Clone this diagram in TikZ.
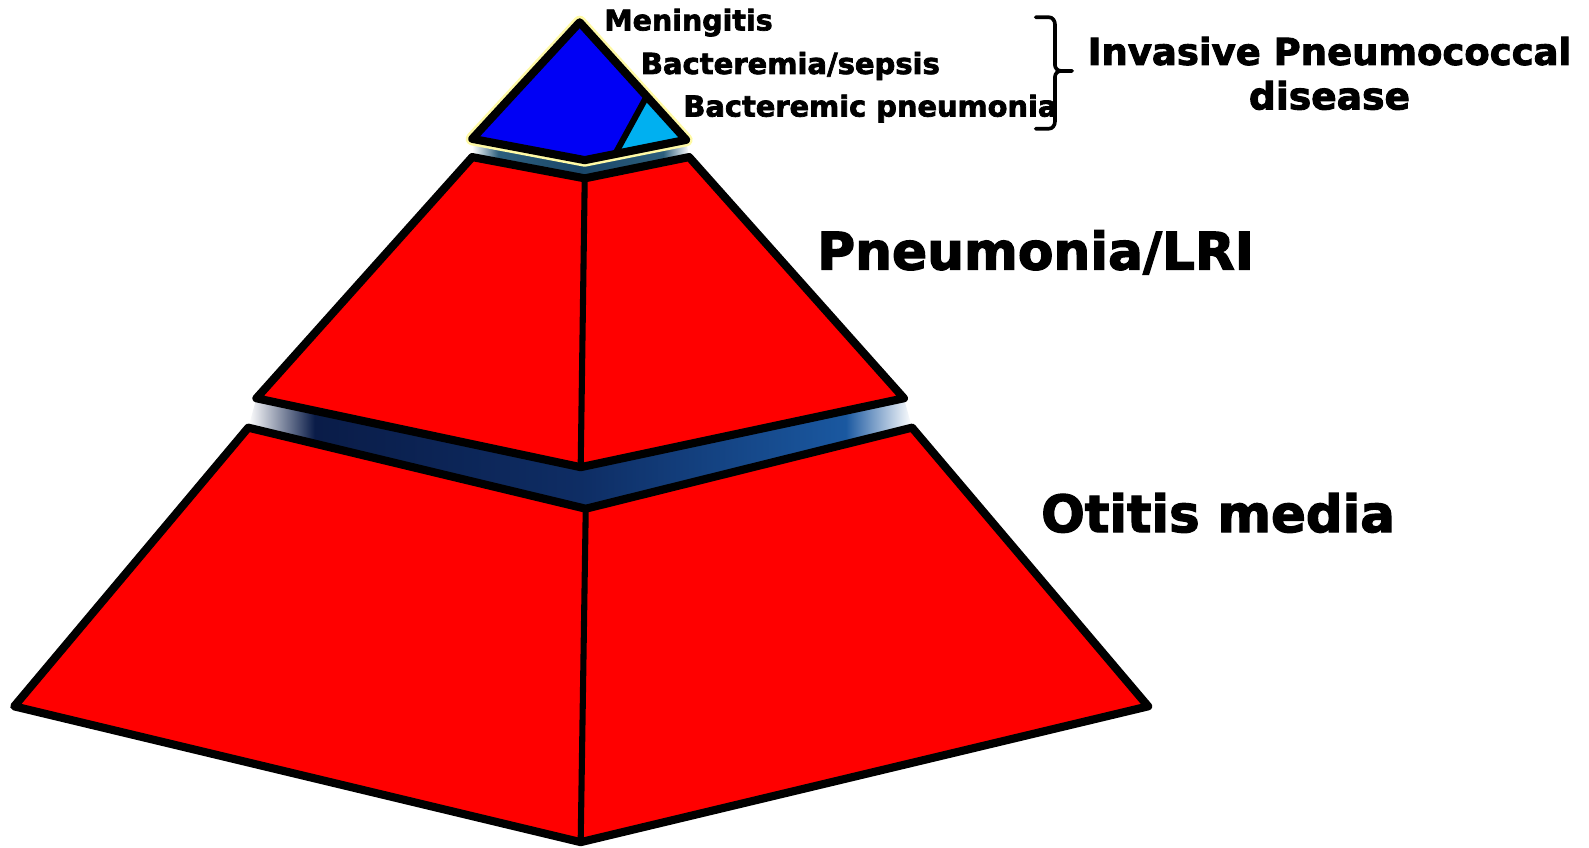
\documentclass[tikz,border=0pt]{standalone}
\usepackage{fontspec}
\usepackage{graphicx}
\newfontfamily\hv{DejaVu Sans}[BoldFeatures={FakeBold=2.5}]
\usetikzlibrary{calc}
\definecolor{pyrred}{RGB}{255,0,0}
\definecolor{topblue}{RGB}{0,0,245}
\definecolor{cyanb}{RGB}{0,176,240}
\definecolor{gapA}{RGB}{10,28,72}
\definecolor{gapB}{RGB}{14,45,100}
\definecolor{gapC}{RGB}{26,88,160}
\definecolor{tealA}{RGB}{45,95,125}
\definecolor{tealB}{RGB}{25,70,105}
\pgfdeclarehorizontalshading{lowgap}{100bp}{color(0bp)=(white); color(25bp)=(white); color(30bp)=(gapA); color(50bp)=(gapB); color(70bp)=(gapC); color(75bp)=(white); color(100bp)=(white)}
\pgfdeclarehorizontalshading{upgap}{100bp}{color(0bp)=(white); color(25bp)=(white); color(31bp)=(tealA); color(50bp)=(tealB); color(69bp)=(tealA); color(75bp)=(white); color(100bp)=(white)}
\tikzset{
  outline/.style={draw=black, line width=4pt, line join=round},
  midline/.style={draw=black, line width=3pt},
  lbl/.style={anchor=base west, inner sep=0pt, font=\hv\bfseries},
  glow/.style={draw=yellow!35, line width=6.5pt, line join=round}
}
\begin{document}
\begin{tikzpicture}[x=0.5pt,y=-0.5pt]
\useasboundingbox (0,0) rectangle (1568,836);
% vertices
\coordinate (tA) at (572,22);
\coordinate (tL) at (466,137);
\coordinate (tC) at (577,158);
\coordinate (tR) at (677,138);
\coordinate (mTL) at (466,155);
\coordinate (mTC) at (577,176);
\coordinate (mTR) at (680,155);
\coordinate (mBL) at (253,393);
\coordinate (mBC) at (573,461);
\coordinate (mBR) at (892,393);
\coordinate (bTL) at (245,422);
\coordinate (bTC) at (578,502);
\coordinate (bTR) at (900,422);
\coordinate (bBL) at (14,697);
\coordinate (bBC) at (573,831);
\coordinate (bBR) at (1133,697);
% gaps
\shade[shading=upgap] (tL) -- (tC) -- (tR) -- (mTR) -- (mTC) -- (mTL) -- cycle;
\shade[shading=lowgap] (mBL) -- (mBC) -- (mBR) -- (bTR) -- (bTC) -- (bTL) -- cycle;
% bottom frustum
\filldraw[fill=pyrred, outline] (bTL) -- (bTC) -- (bTR) -- (bBR) -- (bBC) -- (bBL) -- cycle;
\draw[midline] (bTC) -- (bBC);
% middle frustum
\filldraw[fill=pyrred, outline] (mTL) -- (mTC) -- (mTR) -- (mBR) -- (mBC) -- (mBL) -- cycle;
\draw[midline] (mTC) -- (mBC);
% top triangle
\draw[glow] (tA) -- (tR) -- (tC) -- (tL) -- cycle;
\coordinate (cA) at ($(tA)!0.63!(tR)$);
\coordinate (cB) at ($(tC)!0.3!(tR)$);
\fill[topblue] (tA) -- (tR) -- (tC) -- (tL) -- cycle;
\fill[cyanb] (cA) -- (tR) -- (cB) -- cycle;
\draw[black, line width=3pt] (cA) -- (cB);
\draw[outline] (tA) -- (tR) -- (tC) -- (tL) -- cycle;
% labels
\node[lbl] (men) at (596,30) {\resizebox{83pt}{!}{Meningitis}};
\node[lbl] (bac) at (632,73) {\resizebox{147.5pt}{!}{Bacteremia/sepsis}};
\node[lbl] (bpn) at (674,115) {\resizebox{184.5pt}{!}{Bacteremic pneumonia}};
\node[lbl] (ipd) at (1073,64) {\resizebox{238.5pt}{!}{Invasive Pneumococcal}};
\node[lbl] (dis) at (1232,108) {\resizebox{79.5pt}{!}{disease}};
\node[lbl] (pne) at (806,266) {\resizebox{215.5pt}{!}{Pneumonia/LRI}};
\node[lbl] (oti) at (1027,525) {\resizebox{174.5pt}{!}{Otitis media}};
% brace
\draw[black, line width=1.8pt, line cap=round]
  (1022,17) -- (1035,17) to[out=0,in=90] (1041,24) -- (1041,64)
  to[out=-90,in=180] (1047,70) -- (1058,70);
\draw[black, line width=1.8pt, line cap=round]
  (1047,70) to[out=180,in=90] (1041,76) -- (1041,120)
  to[out=-90,in=0] (1035,127) -- (1022,127);
\end{tikzpicture}
\end{document}
